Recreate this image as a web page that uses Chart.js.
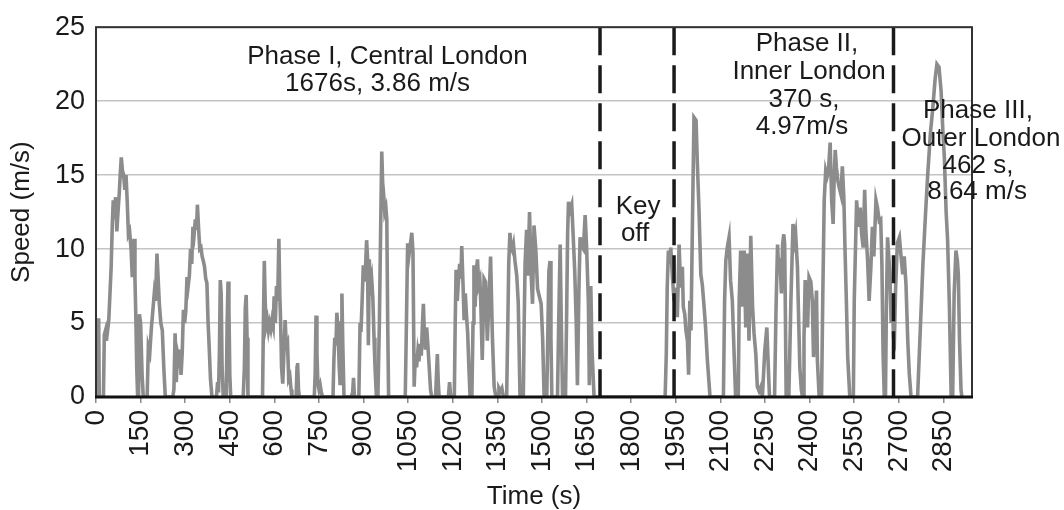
<!DOCTYPE html>
<html>
<head>
<meta charset="utf-8">
<script src="https://cdn.jsdelivr.net/npm/chart.js@4.4.1/dist/chart.umd.min.js"></script>
<style>
  html, body { margin: 0; padding: 0; background: #fff; }
</style>
</head>
<body>
<canvas id="speedChart" width="1064" height="510"></canvas>
<script>
// drive cycle trace (seconds / m/s)
const timeSec = [
  0, 2, 4, 9, 11,
  25, 28, 32, 35, 39, 43, 47, 51, 55, 58, 62, 66, 70, 74, 78, 82, 85, 89, 93, 97, 101, 105, 109, 113, 118, 122, 125, 128, 131, 134, 137, 140,
  143, 146, 150, 155, 159,
  172, 176, 181, 186, 191, 196, 200, 205, 209, 213, 218, 223, 228, 233,
  258, 262, 266, 270, 274, 278, 282, 286, 290, 294, 298, 302, 306, 310, 314, 318, 322, 326, 330, 334, 338, 341, 345, 349, 353, 357, 361, 365, 369, 373, 377, 381, 385, 390,
  405, 409, 412, 415, 418, 421, 424, 428,
  438, 441, 444, 447, 450, 453,
  495, 499, 502, 505, 508, 511,
  560, 563, 566, 569, 572, 576, 580, 584, 588, 592, 596, 599, 603, 607, 611, 615, 618, 621, 624, 628, 632, 636, 640, 644, 648, 652, 656, 659,
  673, 676, 678, 681, 684,
  734, 737, 740, 743, 746, 750, 754, 758, 762,
  797, 800, 803, 807, 810, 814, 818, 821, 824, 827, 830, 834,
  858, 863, 866, 869,
  884, 888, 891, 895, 899, 903, 907, 910, 913, 916, 919, 923, 927, 931, 935, 938, 943,
  948, 953, 957, 961, 964, 967, 971, 975, 978, 981, 984,
  1040, 1044, 1048, 1052, 1055, 1059, 1062, 1066, 1070, 1074, 1078, 1082, 1086, 1090, 1094, 1098, 1101, 1104, 1108, 1112, 1116, 1120, 1125, 1129,
  1142, 1145, 1148, 1151, 1154,
  1185, 1189, 1193,
  1205, 1208, 1211, 1215, 1219, 1223, 1227, 1230, 1234, 1238, 1242, 1246, 1250, 1254, 1258,
  1264, 1268, 1271, 1275, 1279, 1283, 1287, 1291, 1294, 1299, 1305, 1310, 1316, 1322, 1327, 1333, 1339, 1345,
  1352, 1355, 1360, 1365, 1370,
  1381, 1385, 1388, 1392, 1396, 1400, 1404, 1409, 1415, 1420, 1426,
  1437, 1440, 1443, 1448, 1452, 1458, 1463, 1468, 1473, 1479, 1485, 1491, 1497, 1502, 1507,
  1516, 1520, 1523, 1527, 1530, 1533,
  1552, 1556, 1561, 1564, 1569,
  1579, 1583, 1586, 1589, 1594, 1600, 1605, 1610, 1615, 1619, 1624, 1628, 1633, 1639, 1645, 1650, 1656, 1659, 1664, 1668, 1675,
  1914, 1918, 1921, 1925, 1929, 1933, 1938, 1944, 1949, 1955, 1961, 1966, 1972, 1975, 1980, 1984, 1989, 1993, 1997, 2001, 2006, 2011, 2018, 2022, 2028, 2034, 2039, 2045, 2050, 2056, 2065,
  2110, 2114, 2118, 2123, 2129, 2134, 2140, 2146, 2151,
  2160, 2163, 2168, 2174, 2180, 2185, 2189, 2193, 2196, 2202, 2208, 2213, 2219, 2224, 2230, 2236, 2241, 2249, 2256, 2261, 2265,
  2282, 2287, 2292, 2296, 2300, 2305, 2309, 2313, 2316, 2318, 2321,
  2330, 2337, 2344, 2350, 2353, 2359, 2362, 2367, 2372, 2376,
  2378, 2381, 2385, 2389, 2393, 2398, 2404, 2409, 2413, 2418, 2423, 2426, 2432,
  2440, 2444, 2449, 2454, 2459, 2463, 2469, 2474, 2479, 2482, 2486, 2490, 2495, 2499, 2505, 2510, 2515, 2519, 2524, 2528, 2535,
  2547, 2550, 2558, 2564, 2570, 2575, 2580, 2585, 2589, 2595, 2600, 2606, 2611, 2616, 2623, 2628, 2634, 2639, 2643, 2647, 2651,
  2655, 2658, 2662, 2666, 2670, 2674, 2678, 2682, 2685, 2689, 2695, 2702, 2707, 2713, 2718, 2724, 2730, 2735, 2741,
  2763, 2772, 2781, 2790, 2797, 2806, 2814, 2822, 2828, 2835, 2842, 2848, 2853, 2859, 2864, 2870, 2876,
  2881, 2886, 2892, 2897, 2900, 2904, 2909, 2912
];

const speedMs = [
  0, 0, 5.2, 5.2, 0,
  0, 4.2, 4.5, 3.8, 4.5, 5.2, 7.0, 8.8, 11.8, 13.3, 12.8, 13.5, 11.2, 12.5, 13.7, 15.2, 16.2, 15.3, 15.0, 14.0, 15.0, 13.2, 11.0, 11.2, 10.0, 8.1, 9.0, 10.7, 8.0, 5.4, 2.0, 0,
  0, 5.6, 5.0, 1.5, 0,
  0, 3.4, 3.0, 4.6, 5.8, 7.0, 6.5, 9.7, 8.0, 6.3, 5.0, 4.5, 2.0, 0,
  0, 0.5, 4.3, 1.0, 3.0, 2.6, 3.2, 1.5, 3.0, 5.9, 5.0, 5.8, 8.1, 7.5, 8.2, 10.0, 9.0, 11.5, 11.0, 12.0, 11.3, 13.0, 11.4, 10.0, 10.1, 9.5, 9.2, 8.8, 8.0, 7.7, 5.0, 3.2, 1.2, 0,
  0, 1.0, 0.3, 3.0, 7.9, 7.0, 2.0, 0,
  0, 5.0, 7.8, 6.0, 1.5, 0,
  0, 2.0, 6.0, 6.9, 4.0, 0,
  0, 5.0, 9.2, 6.5, 4.8, 5.2, 4.5, 5.0, 4.6, 5.2, 4.8, 6.8, 5.0, 7.5, 6.5, 10.7, 7.0, 5.0, 2.0, 0.9, 3.0, 5.2, 3.5, 3.7, 1.2, 1.4, 0.5, 0,
  0, 2.0, 2.3, 0.5, 0,
  0, 1.5, 5.5, 3.0, 1.0, 0.5, 0.8, 0.3, 0,
  0, 2.5, 4.0, 3.5, 5.7, 4.5, 2.0, 0.8, 5.0, 7.0, 3.5, 0,
  0, 0.3, 1.3, 0,
  0, 5.0, 4.4, 6.5, 8.9, 7.8, 9.0, 10.6, 9.5, 3.5, 9.3, 7.5, 8.0, 6.7, 4.0, 2.2, 0,
  0, 5.0, 11.0, 16.6, 14.5, 13.8, 12.5, 12.8, 12.0, 5.0, 0,
  0, 5.0, 10.4, 9.5, 10.0, 10.6, 11.1, 9.8, 0.7, 2.9, 2.0, 3.0, 2.4, 3.6, 2.8, 5.0, 6.3, 4.5, 3.2, 4.7, 3.5, 2.2, 0.5, 0,
  0, 1.5, 2.9, 1.0, 0,
  0, 1.0, 0,
  0, 5.0, 8.6, 6.5, 7.9, 9.0, 8.0, 10.2, 7.8, 5.2, 7.0, 5.5, 4.3, 2.0, 0,
  0, 5.0, 8.9, 6.1, 8.5, 9.3, 7.6, 7.9, 6.4, 2.5, 8.0, 7.8, 3.8, 6.8, 9.5, 4.1, 0.7, 0,
  0, 0.6, 0.4, 0.6, 0,
  0, 5.0, 9.0, 11.1, 10.1, 9.9, 10.3, 9.2, 8.2, 6.4, 0,
  0, 5.0, 9.0, 11.3, 8.2, 12.5, 8.5, 6.3, 11.6, 10.0, 7.3, 6.8, 6.3, 4.0, 0,
  0, 5.0, 8.5, 9.2, 4.0, 0,
  0, 5.0, 10.3, 6.0, 0,
  0, 6.0, 11.0, 13.2, 12.6, 13.0, 10.8, 8.5, 5.0, 0.8, 7.2, 10.8, 10.2, 10.0, 12.3, 10.1, 6.3, 0.8, 7.5, 3.2, 0,
  0, 3.0, 7.4, 9.9, 9.0, 10.1, 8.3, 6.5, 7.4, 5.4, 10.3, 7.4, 8.8, 6.1, 5.6, 4.5, 3.8, 1.5, 6.5, 4.5, 12.0, 18.9, 18.7, 16.0, 12.6, 8.3, 7.6, 6.1, 4.7, 2.5, 0,
  0, 6.5, 9.2, 10.1, 10.8, 7.9, 6.5, 2.9, 0,
  0, 6.5, 9.9, 6.1, 9.9, 4.7, 9.7, 7.0, 3.8, 10.9, 6.1, 4.3, 2.9, 0.7, 0.4, 0.7, 0, 3.1, 4.7, 2.0, 0,
  0, 6.0, 10.3, 8.5, 9.4, 7.0, 10.3, 11.0, 10.3, 6.5, 0,
  0, 6.5, 11.7, 10.6, 11.0, 8.8, 6.1, 2.0, 0.5, 0,
  0, 4.0, 7.9, 6.0, 4.7, 8.1, 7.8, 6.5, 2.7, 5.2, 7.2, 2.5, 0,
  0, 6.5, 13.3, 15.3, 14.9, 15.2, 17.2, 13.3, 11.7, 14.4, 16.7, 15.5, 14.6, 14.2, 13.7, 15.6, 13.5, 9.9, 6.1, 2.7, 0,
  0, 6.5, 13.3, 11.5, 12.8, 11.0, 10.1, 14.0, 11.3, 9.2, 6.5, 8.8, 11.5, 9.5, 13.3, 12.8, 11.9, 12.0, 9.0, 2.9, 0,
  0, 6.0, 10.8, 9.5, 8.3, 5.0, 7.0, 4.0, 3.8, 7.3, 10.4, 10.8, 9.6, 8.3, 9.5, 7.6, 3.8, 1.6, 0,
  0, 4.5, 9.0, 12.5, 15.0, 17.8, 19.5, 21.5, 22.5, 22.3, 20.7, 18.0, 16.2, 12.5, 10.6, 6.1, 0,
  0, 7.0, 9.9, 9.2, 8.3, 3.8, 0.5, 0
];

// dashed phase boundaries (s)
const phaseBounds = [1695, 1944, 2682];

// annotation lines: text, time of centre, speed of baseline
const noteLines = [
  ['Phase I, Central London', 980, 22.5],
  ['1676s, 3.86 m/s', 947, 20.7],
  ['Key', 1823, 12.37],
  ['off', 1813, 10.55],
  ['Phase II,', 2391, 23.39],
  ['Inner London', 2398, 21.5],
  ['370 s,', 2381, 19.62],
  ['4.97m/s', 2374, 17.81],
  ['Phase III,', 2966, 18.88],
  ['Outer London', 2976, 17.0],
  ['462 s,', 2966, 15.12],
  ['8.64 m/s', 2963, 13.37]
];

const timeMax = 2946;
const timeStep = 150;
const speedMax = 25;
const speedStep = 5;

if (timeSec.length !== speedMs.length) {
  throw new Error('length mismatch ' + timeSec.length + ' / ' + speedMs.length);
}

const FONT = "'Liberation Sans', Arial, Helvetica, sans-serif";
const INK = '#1a1a1a';

const trace = {
  data: timeSec.map((t, i) => ({ x: t, y: speedMs[i] })),
  borderColor: '#8c8c8c',
  borderWidth: 3.6,
  pointRadius: 0,
  tension: 0,
  order: 2
};

const boundaryLines = phaseBounds.map(b => ({
  data: [{ x: b, y: speedMax }, { x: b, y: 0 }],
  borderColor: INK,
  borderWidth: 3.5,
  borderDash: [28, 10],
  pointRadius: 0,
  order: 1
}));

// box round the plot, heavier base line
const framePlugin = {
  id: 'frame',
  afterDatasetsDraw(chart) {
    const { ctx, chartArea: { left, top, right, bottom } } = chart;
    ctx.save();
    ctx.strokeStyle = '#333';
    ctx.lineWidth = 2;
    ctx.strokeRect(left, top, right - left, bottom - top);
    ctx.strokeStyle = '#111';
    ctx.lineWidth = 3;
    ctx.beginPath();
    ctx.moveTo(left - 1, bottom);
    ctx.lineTo(right + 1, bottom);
    ctx.stroke();
    ctx.restore();
  }
};

const notePlugin = {
  id: 'notes',
  afterDraw(chart) {
    const { ctx, scales: { x, y } } = chart;
    ctx.save();
    ctx.fillStyle = INK;
    ctx.font = '26px ' + FONT;
    ctx.textAlign = 'center';
    ctx.textBaseline = 'alphabetic';
    noteLines.forEach(([txt, t, v]) => {
      ctx.fillText(txt, x.getPixelForValue(t), y.getPixelForValue(v));
    });
    ctx.restore();
  }
};

const ctx = document.getElementById('speedChart').getContext('2d');
new Chart(ctx, {
  type: 'line',
  data: { datasets: [...boundaryLines, trace] },
  options: {
    responsive: false,
    animation: false,
    devicePixelRatio: 1,
    layout: { padding: { top: 25, right: 92, left: 0, bottom: 0 } },
    plugins: { legend: { display: false }, tooltip: { enabled: false } },
    scales: {
      x: {
        type: 'linear',
        min: 0,
        max: timeMax,
        ticks: {
          stepSize: timeStep,
          includeBounds: false,
          autoSkip: false,
          minRotation: 90,
          maxRotation: 90,
          padding: 7,
          color: INK,
          font: { family: FONT, size: 28 },
          callback: v => String(v)
        },
        grid: { drawOnChartArea: false, drawTicks: true, tickLength: 6, color: '#8a8a8a', lineWidth: 1.5 },
        border: { display: false },
        title: {
          display: true,
          text: 'Time (s)',
          color: INK,
          font: { family: FONT, size: 26, lineHeight: 1 },
          padding: { top: 0, bottom: 0 }
        },
        afterFit(scale) { scale.height = 113; }
      },
      y: {
        min: 0,
        max: speedMax,
        ticks: {
          stepSize: speedStep,
          padding: 11,
          color: INK,
          font: { family: FONT, size: 27 }
        },
        grid: { color: '#c4c4c4', lineWidth: 1.5, drawTicks: false },
        border: { display: false },
        title: {
          display: true,
          text: 'Speed (m/s)',
          color: INK,
          font: { family: FONT, size: 26, lineHeight: 1 },
          padding: { top: 9, bottom: 0 }
        },
        afterFit(scale) { scale.width = 96; }
      }
    }
  },
  plugins: [framePlugin, notePlugin]
});
</script>
</body>
</html>
